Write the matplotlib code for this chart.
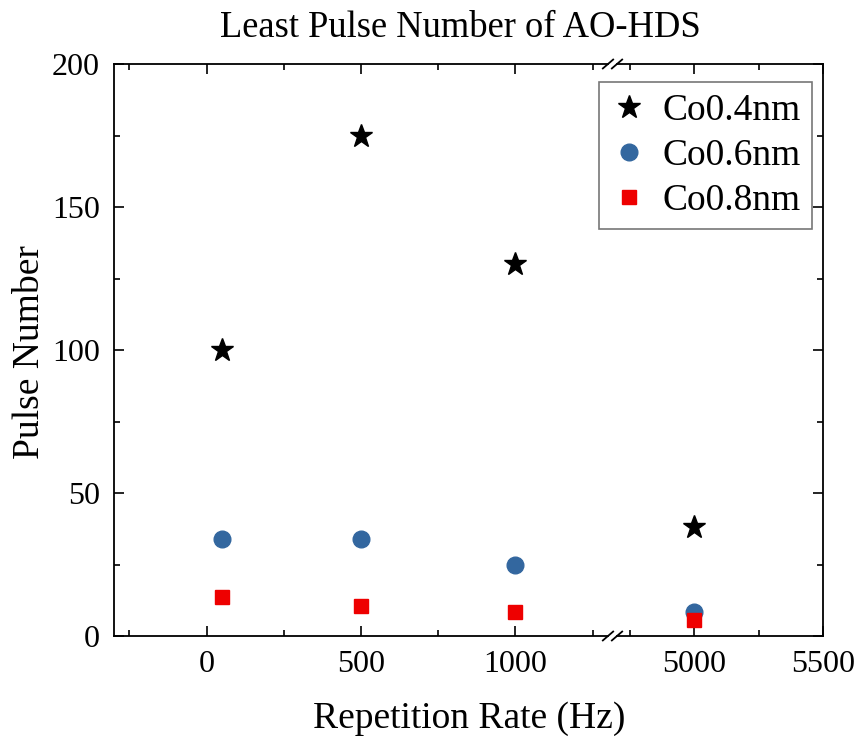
import matplotlib.pyplot as plt
from matplotlib.ticker import MultipleLocator, FixedLocator
from matplotlib.lines import Line2D

plt.rcParams['font.family'] = ['Liberation Serif', 'DejaVu Serif']

rate = [50, 500, 1000, 5000]
co04 = [100, 175, 130, 38]
co06 = [34, 34, 25, 8.5]
co08 = [13.5, 10.5, 8.5, 5.5]
labels = ['Co0.4nm', 'Co0.6nm', 'Co0.8nm']

fig = plt.figure(figsize=(8.59, 7.4), dpi=100)
bot = 1 - 636 / 740
hgt = (636 - 64) / 740
ax1 = fig.add_axes([114 / 859, bot, (608 - 114) / 859, hgt])
ax2 = fig.add_axes([617 / 859, bot, (823 - 617) / 859, hgt], sharey=ax1)

for ax in (ax1, ax2):
    ax.plot(rate, co04, '*', color='black', markersize=17, linestyle='none', label=labels[0])
    ax.plot(rate, co06, 'o', color='#33679f', markersize=12, linestyle='none', label=labels[1])
    ax.plot(rate, co08, 's', color='#ee0000', markersize=10.5, linestyle='none', label=labels[2])
    ax.tick_params(which='both', direction='in', labelsize=23, width=1.2, pad=10)
    ax.tick_params(which='major', length=7)
    ax.tick_params(which='minor', length=4)
    for s in ax.spines.values():
        s.set_linewidth(1.3)

ax1.set_xlim(-300, 1300)
ax2.set_xlim(4700, 5500)
ax1.set_ylim(0, 200)
ax1.xaxis.set_major_locator(FixedLocator([0, 500, 1000]))
ax1.xaxis.set_minor_locator(FixedLocator([-250, 250, 750, 1250]))
ax2.xaxis.set_major_locator(FixedLocator([5000, 5500]))
ax2.xaxis.set_minor_locator(FixedLocator([4750, 5250]))
ax1.yaxis.set_major_locator(MultipleLocator(50))
ax1.yaxis.set_minor_locator(MultipleLocator(25))

ax1.spines['right'].set_visible(False)
ax2.spines['left'].set_visible(False)
ax1.tick_params(which='both', top=True, right=False, left=True)
ax2.tick_params(which='both', top=True, right=True, left=False, labelleft=False)

# break marks
for y in (bot, bot + hgt):
    for x in (608 / 859, 617 / 859):
        fig.add_artist(Line2D([x - 0.006, x + 0.006], [y - 0.006, y + 0.006],
                              color='black', lw=1.3, transform=fig.transFigure))

fig.text(30 / 859, 1 - 352 / 740, 'Pulse Number', fontsize=27, rotation=90, ha='center', va='center')
fig.text(469 / 859, 1 - 719 / 740, 'Repetition Rate (Hz)', fontsize=27, ha='center', va='center')
fig.text(460 / 859, 1 - 28 / 740, 'Least Pulse Number of AO-HDS', fontsize=26.3, ha='center', va='center')

leg = ax2.legend(loc='upper right', fontsize=27, frameon=True, fancybox=False,
                 handletextpad=0.4, borderpad=0.3, labelspacing=0.28, handlelength=1.0,
                 borderaxespad=0, bbox_to_anchor=(812 / 859, 1 - 82 / 740),
                 bbox_transform=fig.transFigure)
leg.get_frame().set_edgecolor('#555555')
leg.get_frame().set_linewidth(1.2)

fig.savefig('out.png', dpi=100)
